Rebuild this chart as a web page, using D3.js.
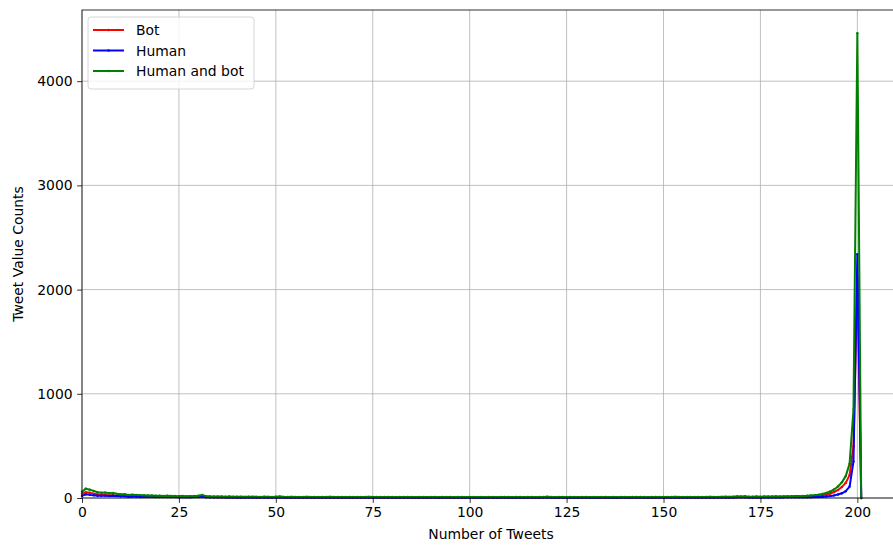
<!DOCTYPE html>
<html>
<head>
<meta charset="utf-8">
<script src="https://cdn.jsdelivr.net/npm/d3@7"></script>
<style>
  body { margin: 0; background: #fff; }
  svg { display: block; font-family: "DejaVu Sans", sans-serif; }
</style>
</head>
<body>
<svg id="chart" width="893" height="547"></svg>
<script>
// Number of tweets per user (x) -> how many users had that count
const tweetCounts = d3.range(0, 202);

const botCounts = [
  40, 55, 50, 42, 33, 28, 30, 25, 26, 22,
  19, 20, 17, 18, 16, 15, 15, 14, 13, 12,
  12, 11, 12, 10, 11, 10, 10, 9, 10, 11,
  12, 16, 10, 9, 8, 8, 8, 7, 8, 7, 7,
  7, 6, 7, 7, 6, 6, 7, 6, 6, 7, 8, 6,
  6, 6, 6, 5, 6, 6, 6, 5, 6, 5, 6, 6,
  5, 6, 5, 6, 5, 5, 6, 5, 6, 6, 5, 6,
  5, 5, 6, 5, 5, 5, 6, 5, 5, 5, 5, 5,
  5, 5, 5, 5, 5, 6, 5, 5, 5, 5, 5, 5,
  5, 5, 5, 5, 5, 5, 5, 5, 6, 5, 5, 5,
  5, 5, 5, 5, 5, 5, 6, 7, 5, 5, 5, 5,
  5, 5, 5, 5, 5, 5, 5, 5, 5, 5, 5, 5,
  5, 5, 5, 5, 5, 5, 5, 6, 5, 5, 5, 5,
  6, 5, 5, 6, 6, 5, 6, 5, 6, 6, 5, 6,
  6, 6, 6, 6, 7, 7, 7, 7, 9, 8, 10, 8,
  8, 8, 8, 9, 9, 9, 10, 9, 10, 10, 11, 11,
  12, 13, 15, 17, 19, 22, 26, 33, 43, 57, 77, 105, 145, 220, 500, 2110, 0
];

const humanCounts = [
  20, 35, 30, 26, 22, 22, 22, 20, 22, 18,
  16, 16, 13, 14, 14, 13, 12, 11, 11, 10,
  10, 9, 9, 9, 9, 8, 9, 8, 8, 9,
  10, 14, 8, 7, 7, 6, 7, 6, 6, 6, 5,
  5, 5, 6, 5, 5, 4, 5, 5, 4, 6, 6, 5,
  4, 5, 4, 4, 4, 5, 4, 4, 4, 4, 4, 5,
  4, 4, 4, 4, 4, 4, 4, 4, 4, 5, 4, 4,
  4, 4, 4, 4, 3, 4, 4, 4, 4, 3, 4, 4,
  3, 4, 4, 3, 4, 4, 4, 3, 4, 4, 3, 4,
  4, 3, 4, 3, 4, 4, 3, 4, 4, 4, 3, 4,
  4, 3, 4, 4, 3, 4, 4, 5, 4, 3, 4, 4,
  3, 4, 4, 3, 4, 4, 3, 4, 3, 4, 4, 3,
  4, 3, 4, 4, 3, 4, 4, 4, 4, 3, 4, 4,
  4, 4, 4, 4, 5, 4, 4, 4, 4, 4, 4, 4,
  4, 5, 4, 4, 4, 5, 4, 5, 7, 6, 7, 5,
  5, 6, 5, 6, 5, 6, 6, 6, 6, 7, 6, 7,
  6, 7, 7, 8, 9, 10, 12, 15, 19, 25, 33, 45, 65, 110, 350, 2340, 0
];

const allCounts = [
  60, 90, 80, 68, 55, 50, 52, 45, 48, 40,
  35, 36, 30, 32, 30, 28, 27, 25, 24, 22,
  22, 20, 21, 19, 20, 18, 19, 17, 18, 20,
  22, 30, 18, 16, 15, 14, 15, 13, 14, 13, 12,
  12, 11, 13, 12, 11, 10, 12, 11, 10, 13, 14, 11,
  10, 11, 10, 9, 10, 11, 10, 9, 10, 9, 10, 11,
  9, 10, 9, 10, 9, 9, 10, 9, 10, 11, 9, 10,
  9, 9, 10, 9, 8, 9, 10, 9, 9, 8, 9, 9,
  8, 9, 9, 8, 9, 10, 9, 8, 9, 9, 8, 9,
  9, 8, 9, 8, 9, 9, 8, 9, 10, 9, 8, 9,
  9, 8, 9, 9, 8, 9, 10, 12, 9, 8, 9, 9,
  8, 9, 9, 8, 9, 9, 8, 9, 8, 9, 9, 8,
  9, 8, 9, 9, 8, 9, 9, 10, 9, 8, 9, 9,
  10, 9, 9, 10, 11, 9, 10, 9, 10, 10, 9, 10,
  10, 11, 10, 10, 11, 12, 11, 12, 16, 14, 17, 13,
  13, 14, 13, 15, 14, 15, 16, 15, 16, 17, 17, 18,
  18, 20, 22, 25, 28, 32, 38, 48, 62, 82, 110, 150, 210, 330, 850, 4460, 0
];

const xTicks = [0, 25, 50, 75, 100, 125, 150, 175, 200];
const yTicks = [0, 1000, 2000, 3000, 4000];

const seriesNames = ["Bot", "Human", "Human and bot"];
const seriesColors = ["#ff0000", "#0000ff", "#008000"];
const seriesValues = [botCounts, humanCounts, allCounts];

const svg = d3.select("#chart");
const margin = { top: 10, right: -7, bottom: 49, left: 82 };
const width = 893 - margin.left - margin.right;
const height = 547 - margin.top - margin.bottom;

const x = d3.scaleLinear().domain([0, 211]).range([0, width]);
const y = d3.scaleLinear().domain([0, 4683]).range([height, 0]);

const g = svg.append("g")
  .attr("transform", `translate(${margin.left},${margin.top})`);

// grid
g.append("g")
  .selectAll("line")
  .data(xTicks)
  .join("line")
  .attr("x1", d => x(d)).attr("x2", d => x(d))
  .attr("y1", 0).attr("y2", height)
  .attr("stroke", "#b0b0b0").attr("stroke-width", 0.8);

g.append("g")
  .selectAll("line")
  .data(yTicks)
  .join("line")
  .attr("x1", 0).attr("x2", width)
  .attr("y1", d => y(d)).attr("y2", d => y(d))
  .attr("stroke", "#b0b0b0").attr("stroke-width", 0.8);

// lines
const line = d3.line()
  .x((d, i) => x(tweetCounts[i]))
  .y(d => y(d));

seriesValues.forEach((vals, k) => {
  g.append("path")
    .datum(vals)
    .attr("fill", "none")
    .attr("stroke", seriesColors[k])
    .attr("stroke-width", 2)
    .attr("stroke-linejoin", "round")
    .attr("d", line);

  g.append("g")
    .selectAll("circle")
    .data(vals)
    .join("circle")
    .attr("cx", (d, i) => x(tweetCounts[i]))
    .attr("cy", d => y(d))
    .attr("r", 1.2)
    .attr("fill", seriesColors[k]);
});

// axes
const xAxis = g.append("g")
  .attr("transform", `translate(0,${height})`)
  .call(d3.axisBottom(x).tickValues(xTicks).tickSize(4.9).tickPadding(4.5));
const yAxis = g.append("g")
  .call(d3.axisLeft(y).tickValues(yTicks).tickFormat(d3.format("d")).tickSize(4.9).tickPadding(4.5));

[xAxis, yAxis].forEach(a => {
  a.select(".domain").remove();
  a.selectAll("line").attr("stroke", "#000").attr("stroke-width", 0.8);
  a.selectAll("text")
    .style("font-family", "DejaVu Sans, sans-serif")
    .style("font-size", "13.9px")
    .attr("fill", "#000");
});

// frame
g.append("rect")
  .attr("x", 0).attr("y", 0)
  .attr("width", width).attr("height", height)
  .attr("fill", "none")
  .attr("stroke", "#000").attr("stroke-width", 0.8);

// axis labels
svg.append("text")
  .attr("x", margin.left + width / 2)
  .attr("y", 539)
  .attr("text-anchor", "middle")
  .style("font-size", "13.9px")
  .text("Number of Tweets");

svg.append("text")
  .attr("transform", `translate(23,${margin.top + height / 2}) rotate(-90)`)
  .attr("text-anchor", "middle")
  .style("font-size", "13.9px")
  .text("Tweet Value Counts");

// legend
const legend = svg.append("g").attr("transform", "translate(88,17)");
legend.append("rect")
  .attr("width", 166).attr("height", 72)
  .attr("rx", 3)
  .attr("fill", "#fff").attr("fill-opacity", 0.8)
  .attr("stroke", "#cccccc").attr("stroke-width", 0.8);

seriesNames.forEach((name, k) => {
  const ly = 13 + k * 20.5;
  legend.append("line")
    .attr("x1", 5).attr("x2", 36)
    .attr("y1", ly).attr("y2", ly)
    .attr("stroke", seriesColors[k]).attr("stroke-width", 2);
  legend.append("circle")
    .attr("cx", 20.5).attr("cy", ly).attr("r", 1.2)
    .attr("fill", seriesColors[k]);
  legend.append("text")
    .attr("x", 48).attr("y", ly + 5)
    .style("font-size", "13.9px")
    .text(name);
});
</script>
</body>
</html>
